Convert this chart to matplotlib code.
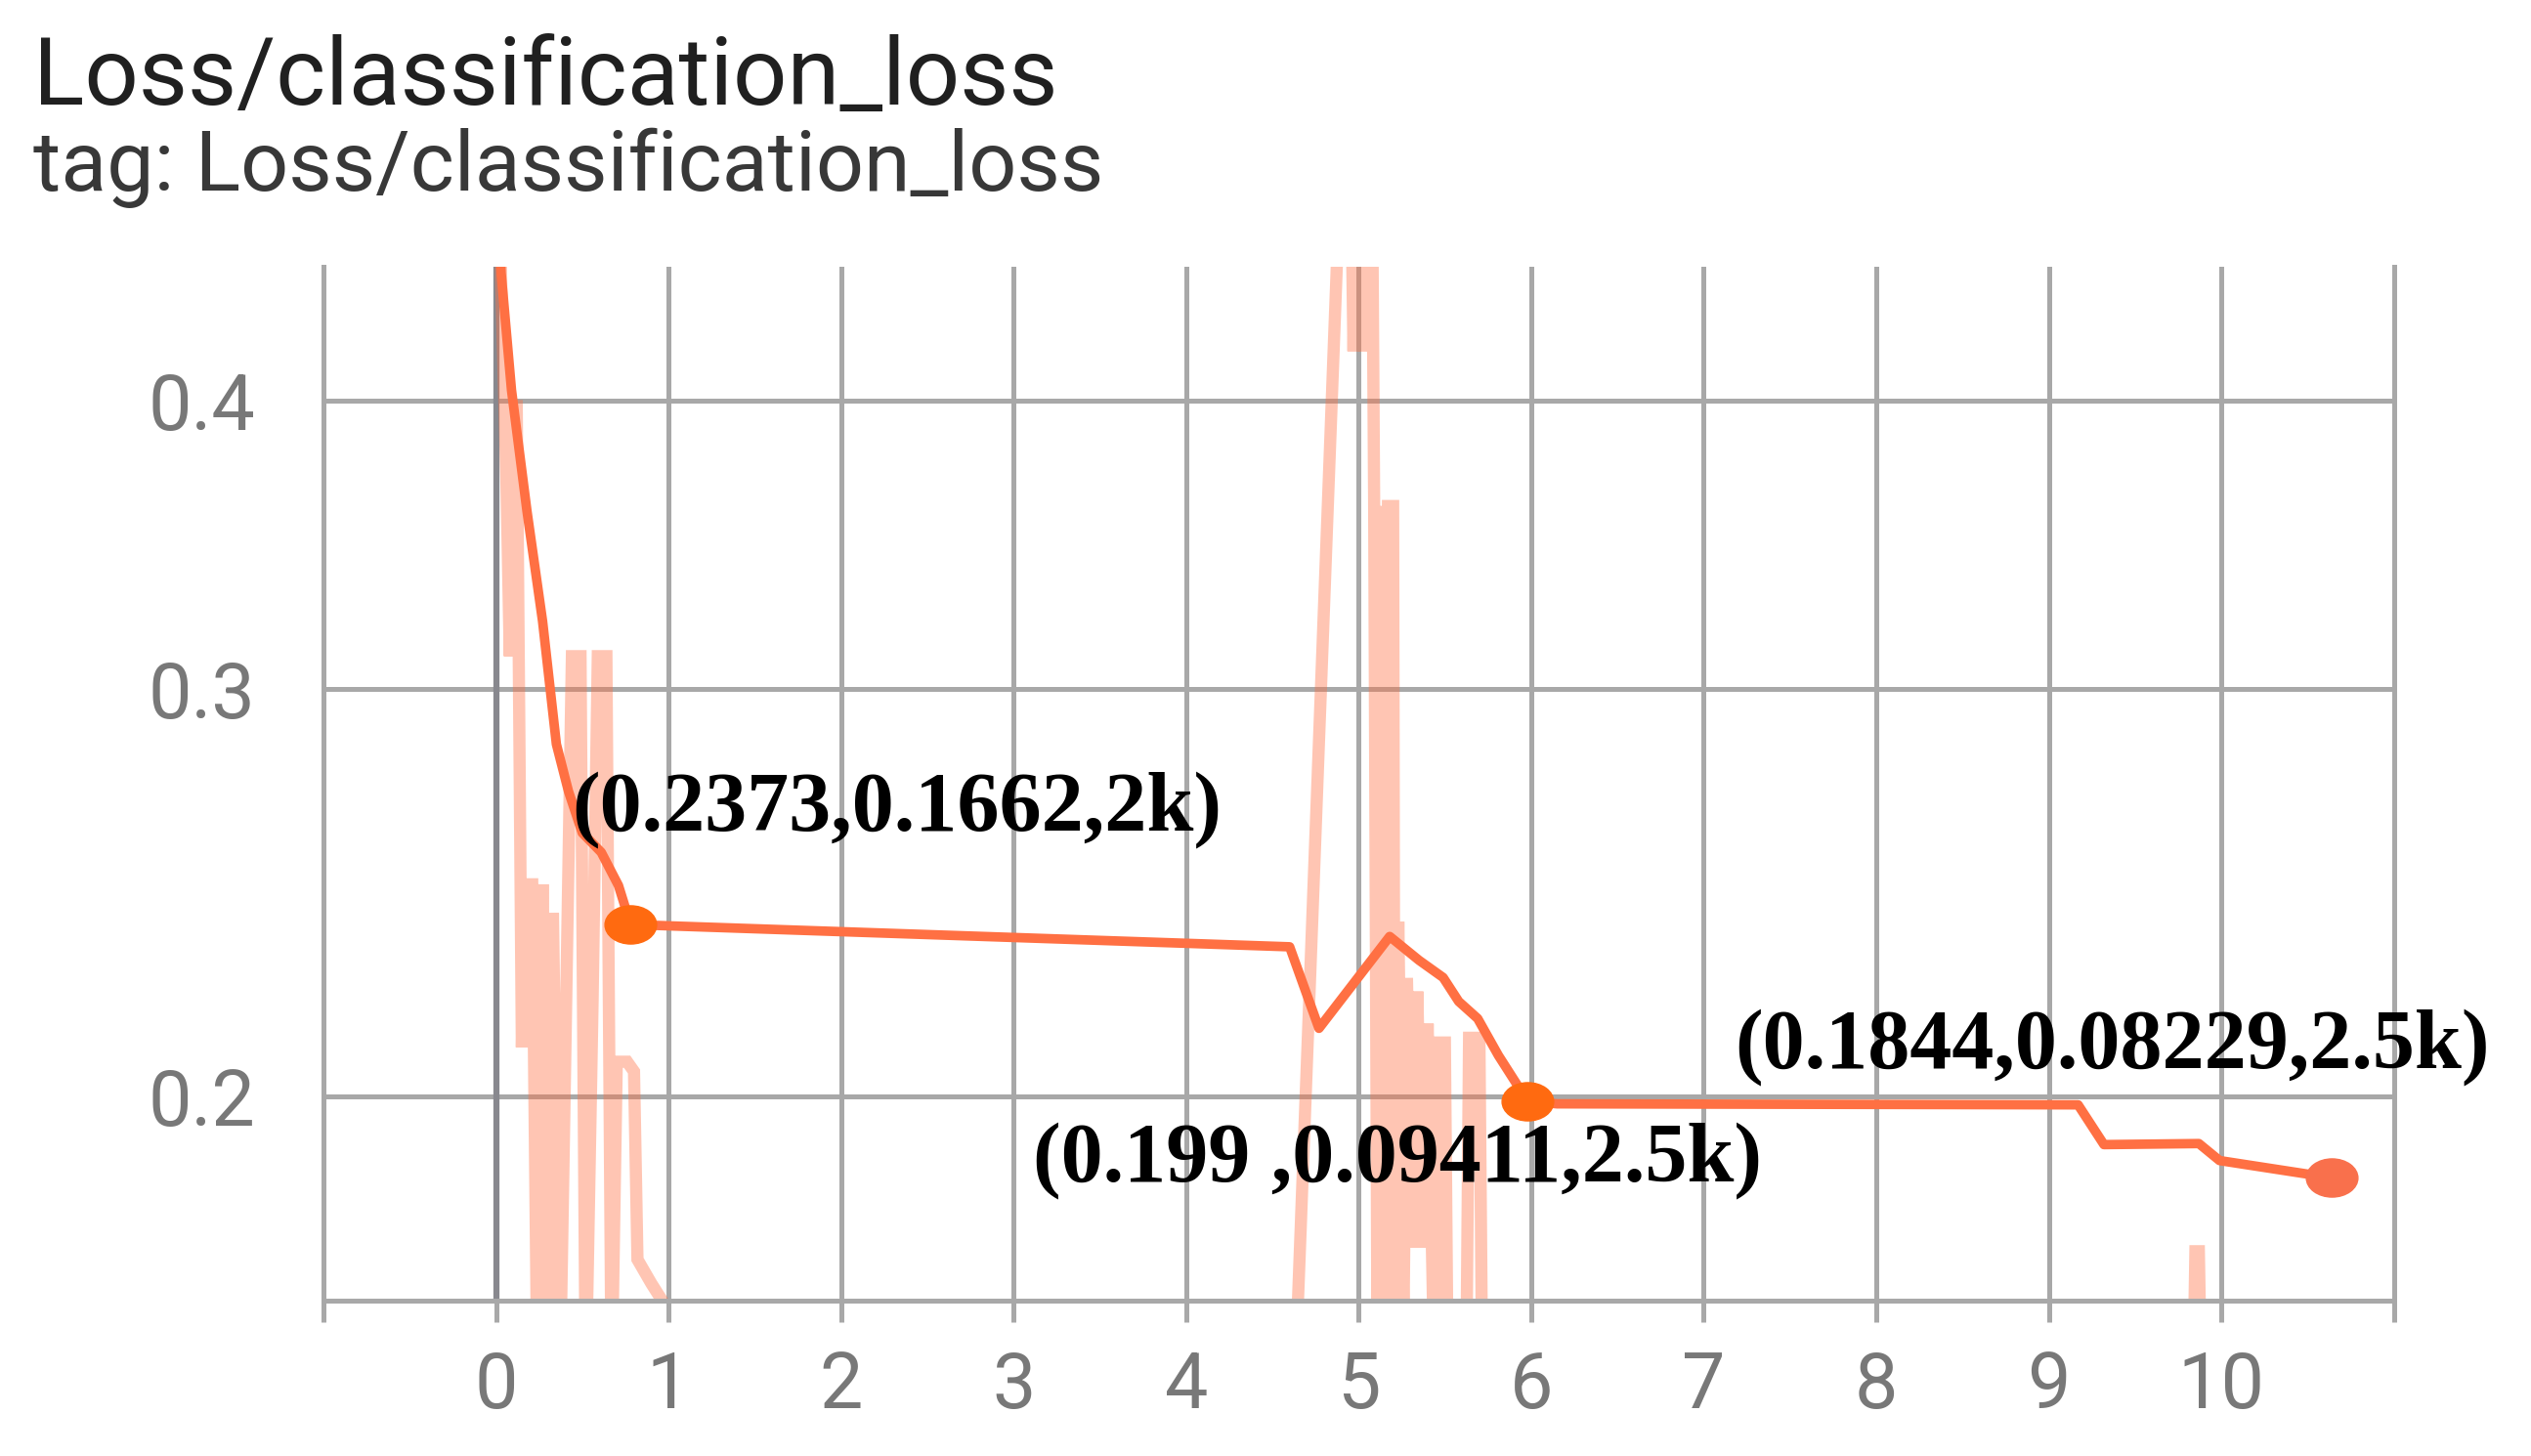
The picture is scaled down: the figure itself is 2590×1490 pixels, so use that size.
import matplotlib
matplotlib.use('Agg')
import matplotlib.pyplot as plt
from matplotlib.path import Path
from matplotlib.transforms import Affine2D
from matplotlib.ticker import NullLocator

# smoothed loss curve
smooth_x = [0.0, 0.03, 0.09, 0.18, 0.27, 0.35, 0.42, 0.50, 0.61, 0.71, 0.78,
            4.60, 4.77, 5.18, 5.35, 5.49, 5.58, 5.69, 5.81, 5.98, 6.15,
            9.17, 9.32, 9.87, 9.99, 10.64]
smooth_y = [0.52, 0.454, 0.404, 0.358, 0.321, 0.284, 0.271, 0.260, 0.255, 0.2467, 0.2373,
            0.2321, 0.2140, 0.2345, 0.2290, 0.2251, 0.2198, 0.2161, 0.2083, 0.199, 0.1985,
            0.1983, 0.1906, 0.1908, 0.1876, 0.1844]

# raw (unsmoothed) loss, values under 0.163 fall below the view
raw_x = [0.00, 0.03, 0.06, 0.08, 0.10, 0.12, 0.15, 0.17, 0.21, 0.24, 0.27, 0.30,
         0.33, 0.37, 0.44, 0.49, 0.52, 0.56, 0.59, 0.64, 0.67, 0.70, 0.76, 0.80,
         0.82, 0.90, 0.99, 1.02,
         4.60, 4.63, 4.94, 4.97, 5.00, 5.03, 5.07, 5.09, 5.11, 5.13, 5.15, 5.17,
         5.20, 5.21, 5.23, 5.26, 5.28, 5.31, 5.34, 5.37, 5.40, 5.44, 5.47, 5.50,
         5.52, 5.62, 5.64, 5.70, 5.72,
         9.83, 9.85, 9.87, 9.89, 10.64]
raw_y = [0.62, 0.45, 0.37, 0.31, 0.36, 0.40, 0.21, 0.247, 0.247, 0.15, 0.247, 0.15,
         0.24, 0.15, 0.31, 0.31, 0.15, 0.22, 0.31, 0.31, 0.15, 0.207, 0.207, 0.205,
         0.170, 0.166, 0.162, 0.14,
         0.14, 0.15, 0.62, 0.42, 0.62, 0.42, 0.62, 0.36, 0.15, 0.36, 0.15, 0.36,
         0.36, 0.15, 0.238, 0.16, 0.225, 0.172, 0.222, 0.172, 0.215, 0.15, 0.211, 0.211,
         0.14, 0.14, 0.212, 0.212, 0.14,
         0.14, 0.1714, 0.1714, 0.14, 0.14]

# highlighted points: (smoothed, raw, step)
mark_x = [0.78, 5.98, 10.64]
mark_y = [0.2373, 0.199, 0.1844]
mark_colors = ['#ff6a10', '#ff6a10', '#f9704c']
labels = ['(0.2373,0.1662,2k)', '(0.199 ,0.09411,2.5k)', '(0.1844,0.08229,2.5k)']
label_x = [0.44, 3.11, 7.18]
label_y = [0.2659, 0.1876, 0.2099]

xticks = list(range(-1, 12))
xtick_labels = [''] + [str(i) for i in range(0, 11)] + ['']
yticks = [0.2, 0.3, 0.4]
ytick_labels = ['0.2', '0.3', '0.4']

line_c = '#ff7043'
grid_c = '#a8a8a8'
sans = ['Roboto', 'DejaVu Sans']

fig = plt.figure(figsize=(25.9, 14.9), dpi=100)
ax = fig.add_axes([0.1278, 0.1064, 0.818, 0.7106])

ax.plot(raw_x, raw_y, color=line_c, alpha=0.4, lw=9,
        solid_joinstyle='miter', solid_capstyle='butt', zorder=2)
ax.plot(smooth_x, smooth_y, color=line_c, lw=7, zorder=3)

ellipse = Path.unit_circle().transformed(Affine2D().scale(1.35, 1.0))
for mx, my, mc in zip(mark_x, mark_y, mark_colors):
    ax.plot([mx], [my], ls='none', marker=ellipse, ms=38, color=mc, zorder=4)

for t, tx, ty in zip(labels, label_x, label_y):
    ax.text(tx, ty, t, ha='left', va='center', fontsize=62, fontweight='bold',
            family='Liberation Serif', color='black', zorder=5)

ax.set_yscale('log')
ax.set_xlim(-1, 11)
ax.set_ylim(0.1631, 0.457)
ax.set_xticks(xticks)
ax.set_xticklabels(xtick_labels)
ax.set_yticks(yticks)
ax.set_yticklabels(ytick_labels)
ax.yaxis.set_minor_locator(NullLocator())

ax.grid(True, color=grid_c, lw=3.6)
ax.axvline(0, color='#88888e', lw=4.5, zorder=1)
ax.set_axisbelow(True)
ax.spines['top'].set_visible(False)
for side in ['left', 'right', 'bottom']:
    ax.spines[side].set_color(grid_c)
    ax.spines[side].set_linewidth(3.6)

ax.tick_params(axis='x', length=16, width=3.6, color=grid_c, pad=20,
               labelsize=57, labelcolor='#787878')
ax.tick_params(axis='y', length=0, pad=50, labelsize=57, labelcolor='#787878')
for lab in ax.get_xticklabels() + ax.get_yticklabels():
    lab.set_family(sans)

fig.text(0.013, 0.928, 'Loss/classification_loss', fontsize=70,
         family=sans, color='#202020', ha='left', va='baseline')
fig.text(0.013, 0.869, 'tag: Loss/classification_loss', fontsize=62,
         family=sans, color='#383838', ha='left', va='baseline')

fig.savefig('out.png', dpi=100, facecolor='white')
